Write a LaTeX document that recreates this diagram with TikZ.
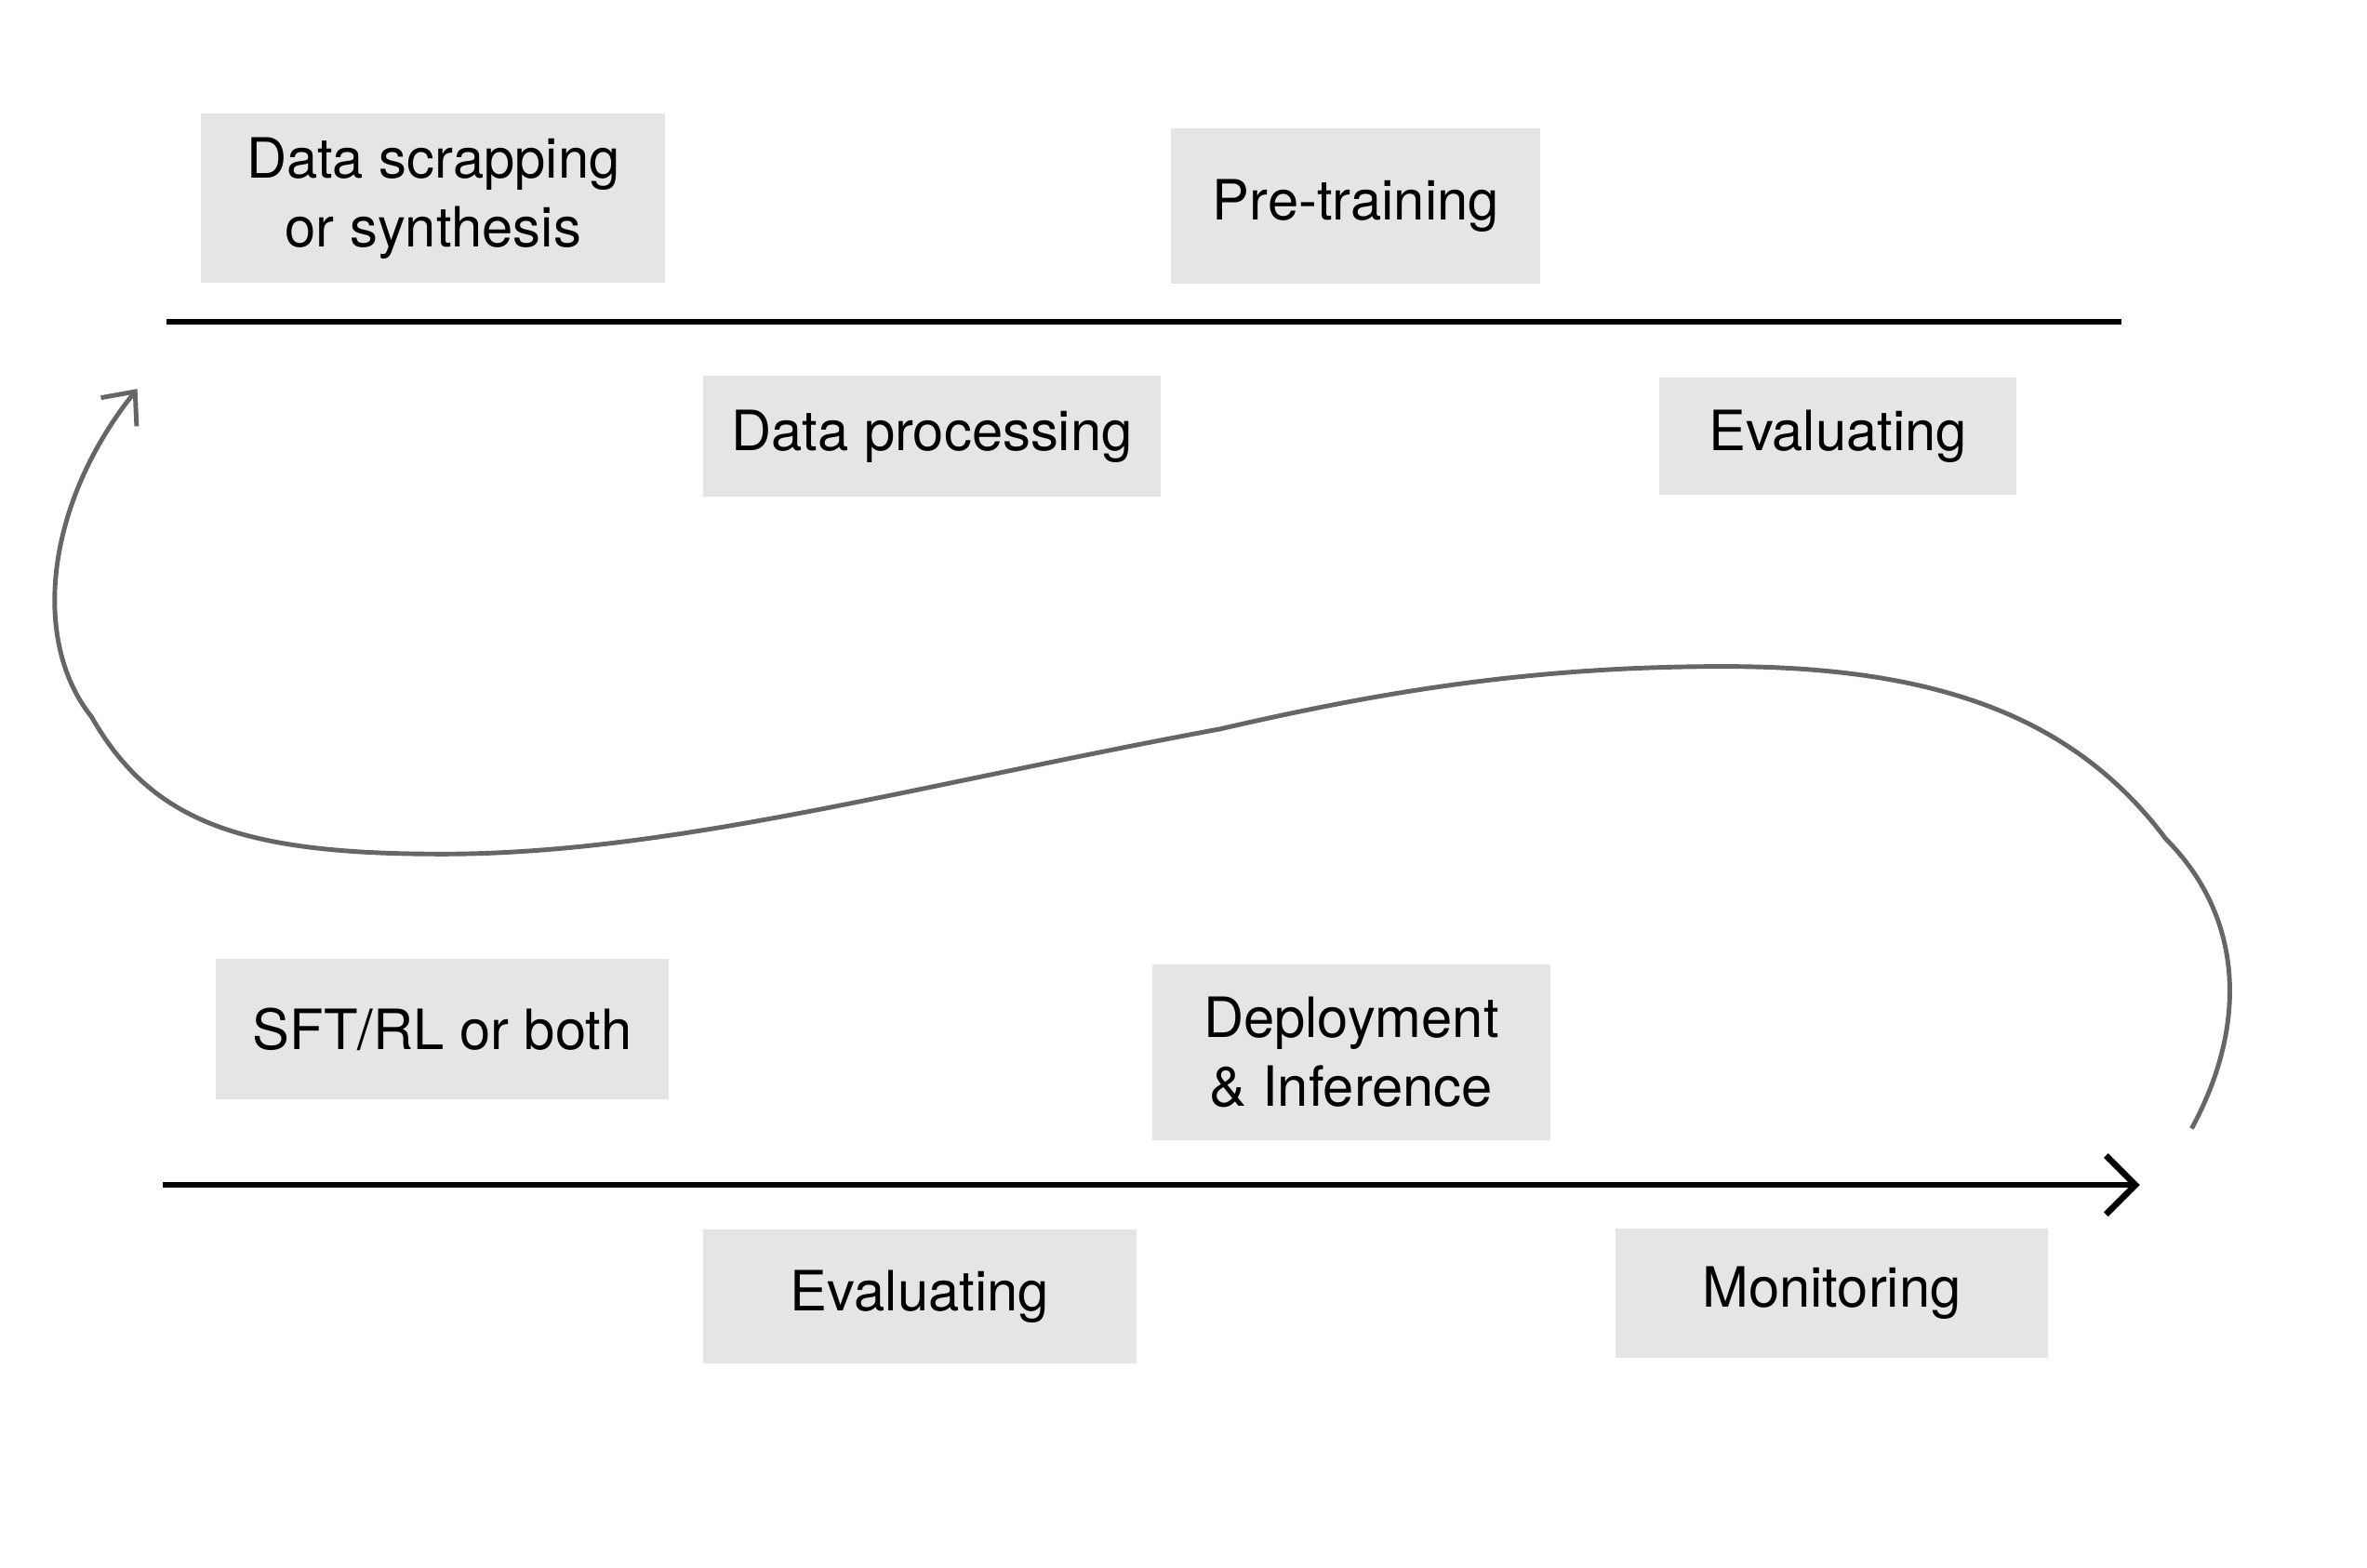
\documentclass[tikz,border=0pt]{standalone}
\usepackage{fontspec}
\setmainfont{TeX Gyre Heros}
\usetikzlibrary{arrows.meta}

\tikzset{
	stage/.style={fill=black!10, inner sep=0pt, align=center, font=\fontsize{17}{21}\selectfont},
	timeline/.style={line width=1.9pt, black},
	loopback/.style={line width=1.4pt, black!60, -{Straight Barb[length=8pt, width=14pt]}}
}

\begin{document}
\begin{tikzpicture}[x=0.0164cm, y=-0.0164cm]
	\useasboundingbox (0,0) rectangle (1552,1028);
	
	% first round
	\node[stage, minimum width=4.99cm, minimum height=1.82cm] (scrap) at (284,130) {Data scrapping\\or synthesis};
	\node[stage, minimum width=3.97cm, minimum height=1.67cm] (pretrain) at (889,135) {Pre-training};
	\node[stage, minimum width=4.92cm, minimum height=1.30cm] (process) at (611,286) {Data processing};
	\node[stage, minimum width=3.84cm, minimum height=1.26cm] (evaltop) at (1205,286) {Evaluating};
	
	\coordinate (t1) at (109,211);
	\coordinate (t2) at (1391,211);
	\draw[timeline] (t1) -- (t2);
	
	% second round
	\node[stage, minimum width=4.87cm, minimum height=1.51cm] (sft) at (290,675) {SFT/RL or both};
	\node[stage, minimum width=4.28cm, minimum height=1.89cm] (deploy) at (886,690) {Deployment\\\& Inference};
	\node[stage, minimum width=4.66cm, minimum height=1.44cm] (evalbot) at (603,850) {Evaluating};
	\node[stage, minimum width=4.66cm, minimum height=1.39cm] (monitor) at (1201,848) {Monitoring};
	
	\coordinate (b1) at (107,777);
	\coordinate (b2) at (1403,777);
	\draw[timeline, -{Straight Barb[length=9pt, width=18pt]}] (b1) -- (b2);
	
	% loop back
	\coordinate (l1) at (1437,740);
	\coordinate (l2) at (90,255);
	\draw[loopback] (l1) .. controls (1475,670) and (1470,600) .. (1420,550)
		.. controls (1360,470) and (1270,437) .. (1130,437)
		.. controls (1000,437) and (900,455) .. (800,478)
		.. controls (600,515) and (440,560) .. (290,560)
		.. controls (160,560) and (100,540) .. (60,470)
		.. controls (20,420) and (30,330) .. (l2);
\end{tikzpicture}
\end{document}
